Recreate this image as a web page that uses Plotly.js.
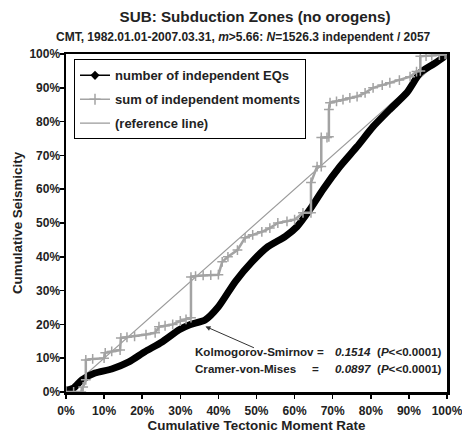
<!DOCTYPE html>
<html>
<head>
<meta charset="utf-8">
<script src="https://cdn.plot.ly/plotly-3.0.1.min.js"></script>
<style>html,body{margin:0;padding:0;background:#fff;}#chart{width:462px;height:438px;}</style>
</head>
<body>
<div id="chart"></div>
<script>
// Cumulative tectonic moment rate (%) vs cumulative seismicity (%)
var eqX = [0, 2, 4.2, 7.6, 12, 16.5, 20.7, 25.2, 29.7, 32.5, 36.5, 40, 44.4, 48.8, 53, 57.5, 60.6, 64, 67.5, 71.9, 76.4, 80.6, 85, 89.5, 93, 96.3, 99, 100];
var eqY = [0.5, 1.2, 3.6, 5.6, 6.8, 8.9, 11.9, 14.8, 18.4, 19.9, 21.3, 25.2, 32.6, 38.5, 43, 46, 48.9, 54, 60, 66.7, 72.6, 78.5, 83.6, 88.6, 94.5, 96.9, 99, 100];

var momX = [0, 2, 4, 4.5, 5.2, 5.2, 7, 10, 10.3, 12, 14.2, 14.4, 16, 18, 21, 23.4, 24.4, 26, 28, 30, 31.5, 32.8, 32.8, 34, 36, 38, 40, 41, 42.5, 45, 47, 49, 51.4, 53.5, 55.6, 58, 60, 62.2, 64.3, 64.3, 65.9, 67, 67, 68.5, 69, 69, 69.3, 71, 72.7, 74.5, 76.4, 78.5, 80.6, 83, 85, 87.5, 90.3, 92, 93, 93, 94.5, 96, 98, 99.5, 100];
var momY = [0, 0, 0, 1.5, 3.6, 9.5, 9.8, 10, 11.6, 12, 12.4, 16, 16.2, 16.5, 17, 17.5, 19.3, 19.6, 20, 21, 21.5, 22, 34, 34.3, 34.5, 34.6, 34.7, 38.5, 40, 42, 45.6, 46.5, 47.4, 48.5, 50, 50.5, 51, 53, 53, 62, 66.7, 66.7, 75.3, 75.3, 75.5, 83.6, 85.6, 86, 86.5, 87, 87.4, 88.5, 90, 90.8, 91.5, 92.3, 93.3, 94.8, 95, 99.3, 99.4, 99.5, 99.7, 99.9, 100];

var refX = [0, 100];
var refY = [0, 100];

var tickVals = [0, 10, 20, 30, 40, 50, 60, 70, 80, 90, 100];
var tickText = ['0%', '10%', '20%', '30%', '40%', '50%', '60%', '70%', '80%', '90%', '100%'];

var seriesNames = ['number of independent EQs', 'sum of independent moments', '(reference line)'];

var gray = '#a3a3a3';
var F = 'Arial, "Liberation Sans", sans-serif';
var TXT = '#222';

var traces = [
  {x: refX, y: refY, mode: 'lines', line: {color: '#9a9a9a', width: 1.2}, showlegend: false, hoverinfo: 'skip'},
  {x: eqX, y: eqY, mode: 'lines', line: {color: '#000', width: 7, shape: 'spline', smoothing: 0.6}, showlegend: false},
  {x: momX, y: momY, mode: 'lines+markers', line: {color: gray, width: 2.5}, marker: {symbol: 'cross-thin', size: 7, line: {color: gray, width: 1.5}}, showlegend: false},
  // legend entries
  {x: [null], y: [null], name: seriesNames[0], legendgroup: 'a', mode: 'lines+markers', line: {color: '#000', width: 1.5}, marker: {symbol: 'diamond', size: 7, color: '#000'}},
  {x: [null], y: [null], name: seriesNames[1], legendgroup: 'b', mode: 'lines+markers', line: {color: gray, width: 1.5}, marker: {symbol: 'cross-thin', size: 8, line: {color: gray, width: 1.5}}},
  {x: [null], y: [null], name: seriesNames[2], legendgroup: 'c', mode: 'lines', line: {color: '#9a9a9a', width: 1.2}}
];

var axisCommon = {
  range: [0, 100], tickvals: tickVals, ticktext: tickText,
  showgrid: false, zeroline: false, showline: true, linecolor: '#000', linewidth: 2.5, mirror: true,
  ticks: 'outside', ticklen: 4, tickwidth: 1.5, tickcolor: '#000', ticklabeloverflow: 'allow',
  tickfont: {family: F, size: 12, color: TXT, weight: 'bold'}
};

var annFont = {family: F, size: 11.6, color: TXT};

var layout = {
  width: 462, height: 438,
  margin: {l: 66, r: 15, t: 54, b: 46},
  paper_bgcolor: '#fff', plot_bgcolor: '#fff',
  font: {family: F, color: TXT},
  title: {text: '<b>SUB: Subduction Zones (no orogens)</b>', font: {family: F, size: 15.2, color: TXT}, x: 0.552, xanchor: 'center', y: 0.961, yanchor: 'middle', yref: 'container'},
  xaxis: Object.assign({}, axisCommon, {ticklabelstandoff: 2, title: {text: '<b>Cumulative Tectonic Moment Rate</b>', font: {family: F, size: 13.4, color: TXT}, standoff: 4}}),
  yaxis: Object.assign({}, axisCommon, {ticklabelstandoff: -3, title: {text: '<b>Cumulative Seismicity</b>', font: {family: F, size: 13.4, color: TXT}, standoff: 4}}),
  legend: {x: 0.021, y: 0.984, xanchor: 'left', yanchor: 'top', bordercolor: '#000', borderwidth: 1, bgcolor: '#fff',
           font: {family: F, size: 13, color: TXT, weight: 'bold'}, tracegroupgap: 4, itemwidth: 30},
  annotations: [
    {xref: 'paper', yref: 'paper', x: 0.4646, y: 1.049, xanchor: 'center', yanchor: 'middle', showarrow: false,
     text: '<b>CMT, 1982.01.01-2007.03.31, <i>m</i>>5.66: <i>N</i>=1526.3 independent / 2057</b>', font: {family: F, size: 12, color: TXT}},
    {xref: 'paper', yref: 'paper', x: 0.333, y: 0.1185, xanchor: 'left', yanchor: 'middle', showarrow: false,
     text: '<b>Kolmogorov-Smirnov</b>', font: annFont},
    {xref: 'paper', yref: 'paper', x: 0.333, y: 0.071, xanchor: 'left', yanchor: 'middle', showarrow: false,
     text: '<b>Cramer-von-Mises</b>', font: annFont},
    {xref: 'paper', yref: 'paper', x: 0.669, y: 0.1185, xanchor: 'center', yanchor: 'middle', showarrow: false,
     text: '<b>=</b>', font: annFont},
    {xref: 'paper', yref: 'paper', x: 0.654, y: 0.071, xanchor: 'center', yanchor: 'middle', showarrow: false,
     text: '<b>=</b>', font: annFont},
    {xref: 'paper', yref: 'paper', x: 0.7, y: 0.1185, xanchor: 'left', yanchor: 'middle', showarrow: false,
     text: '<b><i>0.1514</i></b>', font: annFont},
    {xref: 'paper', yref: 'paper', x: 0.7, y: 0.071, xanchor: 'left', yanchor: 'middle', showarrow: false,
     text: '<b><i>0.0897</i></b>', font: annFont},
    {xref: 'paper', yref: 'paper', x: 0.811, y: 0.1185, xanchor: 'left', yanchor: 'middle', showarrow: false,
     text: '<b>(<i>P</i><<0.0001)</b>', font: annFont},
    {xref: 'paper', yref: 'paper', x: 0.811, y: 0.071, xanchor: 'left', yanchor: 'middle', showarrow: false,
     text: '<b>(<i>P</i><<0.0001)</b>', font: annFont},
    {xref: 'x', yref: 'y', x: 36.6, y: 19.4, ax: 50, ay: 22, text: '', showarrow: true,
     arrowhead: 2, arrowsize: 1, arrowwidth: 1, arrowcolor: '#333'}
  ]
};

Plotly.newPlot('chart', traces, layout, {displayModeBar: false, staticPlot: true});
</script>
</body>
</html>
